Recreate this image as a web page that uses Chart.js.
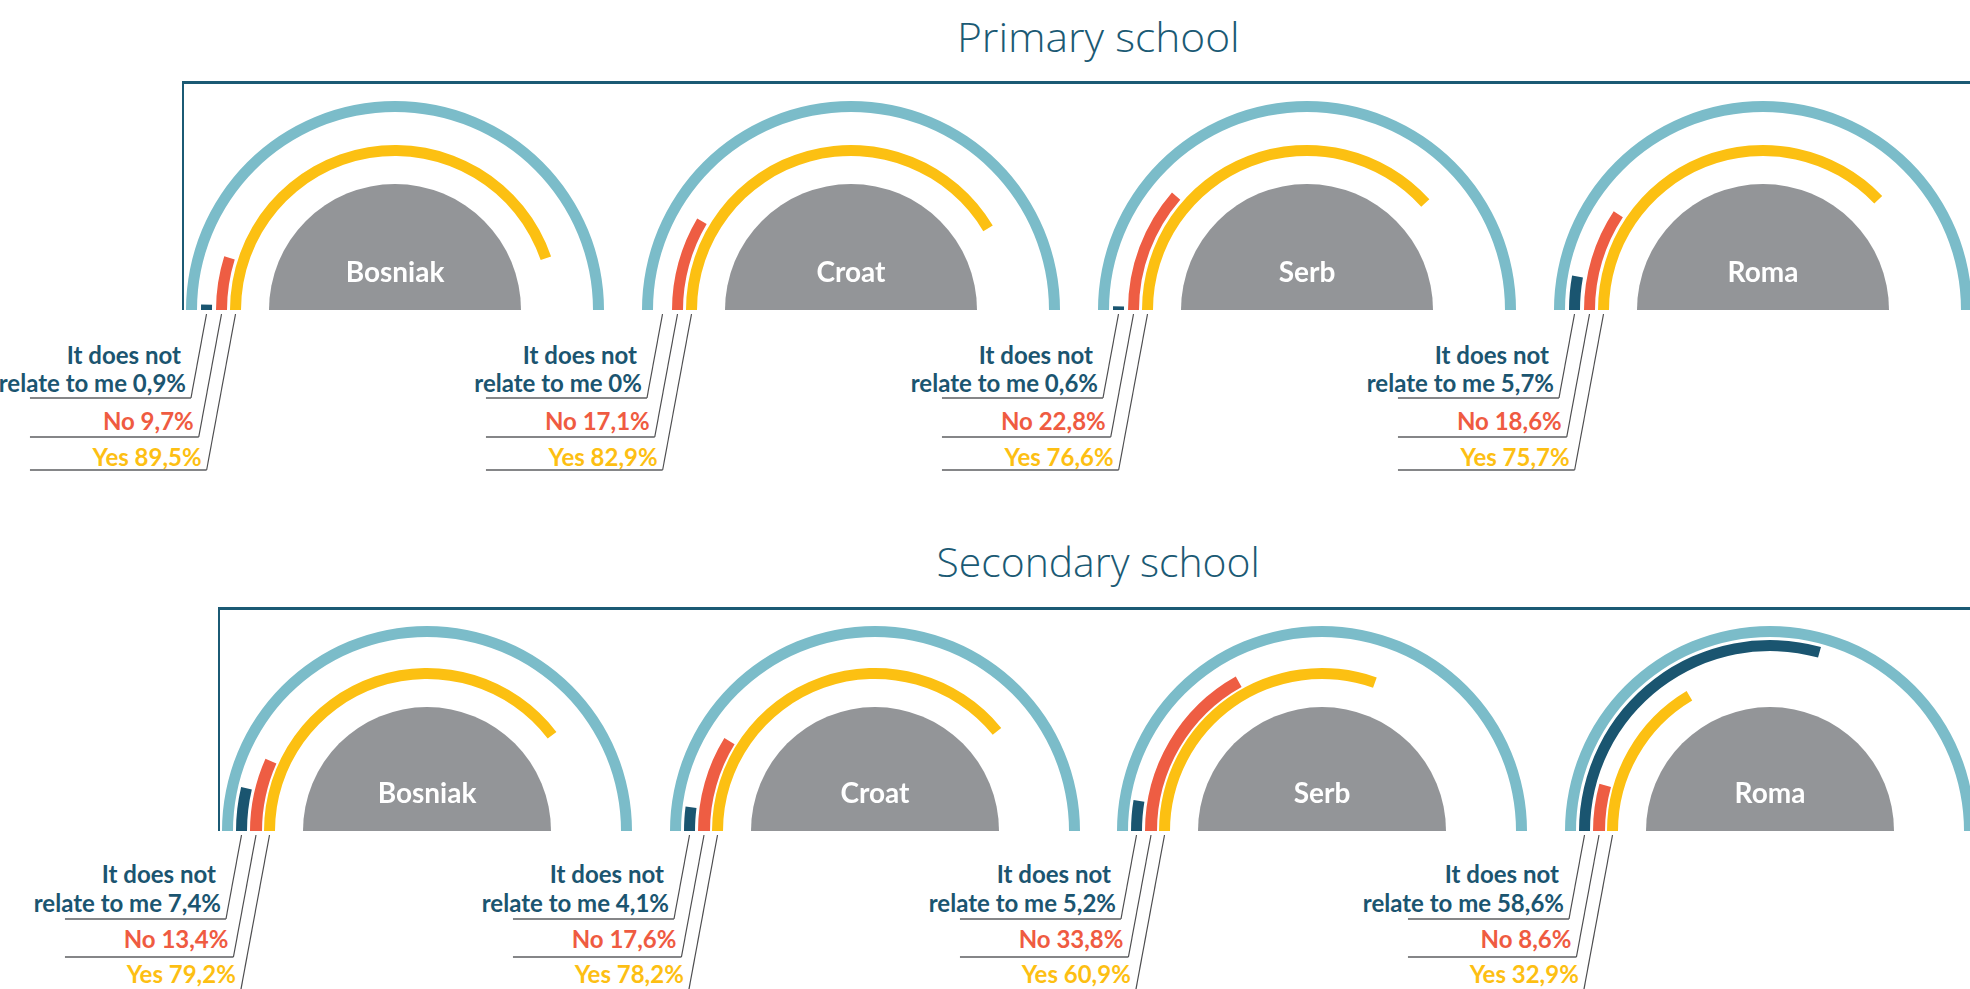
<!DOCTYPE html>
<html><head><meta charset="utf-8">
<script src="https://cdn.jsdelivr.net/npm/chart.js@4.4.0/dist/chart.umd.min.js"></script>
<style>
html,body{margin:0;padding:0;background:#fff;width:1970px;height:989px;overflow:hidden;}
#stage{position:relative;width:1970px;height:989px;overflow:hidden;}
.title{position:absolute;font-family:"Open Sans",sans-serif;font-weight:300;color:#1b5a74;font-size:41px;line-height:41px;white-space:nowrap;transform-origin:50% 50%;}
.lbl{position:absolute;font-family:Lato,sans-serif;font-weight:700;font-size:24px;line-height:24px;white-space:nowrap;text-align:right;}
.grp{position:absolute;font-family:Lato,sans-serif;font-weight:700;font-size:28px;line-height:28px;color:#fff;white-space:nowrap;transform:translateX(-50%);}
.frame{position:absolute;border-top:3px solid #1b5a74;border-left:2px solid #1b5a74;box-sizing:border-box;}
canvas{position:absolute;}
svg{position:absolute;left:0;top:0;}
</style></head><body><div id="stage"></div>
<script>
// ---------- data ----------
const schoolTitles = ['Primary school', 'Secondary school'];
const groups = ['Bosniak', 'Croat', 'Serb', 'Roma'];
const answerLabels = ['It does not relate to me', 'No', 'Yes'];
const primaryNotRelate = [0.9, 0, 0.6, 5.7];
const primaryNo = [9.7, 17.1, 22.8, 18.6];
const primaryYes = [89.5, 82.9, 76.6, 75.7];
const secondaryNotRelate = [7.4, 4.1, 5.2, 58.6];
const secondaryNo = [13.4, 17.6, 33.8, 8.6];
const secondaryYes = [79.2, 78.2, 60.9, 32.9];

// ---------- styles / layout ----------
const TEAL = '#7bbcc9', DARK = '#1a5570', RED = '#ee5d43', YEL = '#fcc012', GRAY = '#939598', CLEAR = 'rgba(0,0,0,0)';
const TXT = ['#1b5570', '#ef5b41', '#fdbf13'];
const rows = [
  { title: schoolTitles[0], titleBase: 52, titleW: 283, centers: [395, 851, 1307, 1763], base: 310,
    frame: { x: 182, y: 81 },
    weights: [11, 4, 11, 4, 11, 3, 11, 28, 126],
    off: { l1: 54, l2: 82, u1: 88, l3: 120, u2: 127, l4: 156, u3: 160 },
    series: [primaryNotRelate, primaryNo, primaryYes] },
  { title: schoolTitles[1], titleBase: 577, titleW: 323, centers: [427, 875, 1322, 1770], base: 831,
    frame: { x: 218, y: 607 },
    weights: [11, 3, 11, 3, 12, 2, 11, 28, 124],
    off: { l1: 52, l2: 81, u1: 88, l3: 117, u2: 126, l4: 152, u3: 159 },
    series: [secondaryNotRelate, secondaryNo, secondaryYes] }
];
const SLOPE = 0.185, UL_LEN = 161;

const stage = document.getElementById('stage');
const NS = 'http://www.w3.org/2000/svg';
const svg = document.createElementNS(NS, 'svg');
svg.setAttribute('width', 1970); svg.setAttribute('height', 989);

function fmt(v) { return (v === 0 ? '0' : v.toFixed(1).replace('.', ',')) + '%'; }
function line(x1, y1, x2, y2, stroke, w) {
  const l = document.createElementNS(NS, 'line');
  l.setAttribute('x1', x1); l.setAttribute('y1', y1); l.setAttribute('x2', x2); l.setAttribute('y2', y2);
  l.setAttribute('stroke', stroke); l.setAttribute('stroke-width', w);
  svg.appendChild(l);
}
function label(text, rightX, baseline, color) {
  const d = document.createElement('div');
  d.className = 'lbl'; d.textContent = text; d.style.color = color;
  d.style.right = (1970 - rightX) + 'px';
  d.style.top = (baseline - 21.3) + 'px';
  stage.appendChild(d);
}

const titleEls = [];
rows.forEach(row => {
  const t = document.createElement('div');
  t.className = 'title'; t.textContent = row.title;
  t.style.top = (row.titleBase - 36.4) + 'px';
  t.style.left = '1098px';
  stage.appendChild(t);
  titleEls.push([t, row.titleW]);
  const f = document.createElement('div');
  f.className = 'frame';
  f.style.left = row.frame.x + 'px'; f.style.top = row.frame.y + 'px';
  f.style.width = (1970 - row.frame.x + 10) + 'px'; f.style.height = (row.base - row.frame.y) + 'px';
  stage.appendChild(f);

  const R = row.weights.reduce((a, b) => a + b, 0);
  groups.forEach((g, gi) => {
    const cx = row.centers[gi], base = row.base;
    const cv = document.createElement('canvas');
    cv.width = 2 * R; cv.height = R;
    cv.style.left = (cx - R) + 'px'; cv.style.top = (base - R) + 'px';
    cv.style.width = (2 * R) + 'px'; cv.style.height = R + 'px';
    stage.appendChild(cv);
    const vals = row.series.map(s => s[gi]);
    const w = row.weights;
    const ds = [
      { label: 'scale', data: [100], backgroundColor: [TEAL], weight: w[0] },
      { label: '', data: [100], backgroundColor: [CLEAR], weight: w[1] },
      { label: answerLabels[0], data: [vals[0], 100 - vals[0]], backgroundColor: [DARK, CLEAR], weight: w[2] },
      { label: '', data: [100], backgroundColor: [CLEAR], weight: w[3] },
      { label: answerLabels[1], data: [vals[1], 100 - vals[1]], backgroundColor: [RED, CLEAR], weight: w[4] },
      { label: '', data: [100], backgroundColor: [CLEAR], weight: w[5] },
      { label: answerLabels[2], data: [vals[2], 100 - vals[2]], backgroundColor: [YEL, CLEAR], weight: w[6] },
      { label: '', data: [100], backgroundColor: [CLEAR], weight: w[7] },
      { label: g, data: [100], backgroundColor: [GRAY], weight: w[8] }
    ];
    ds.forEach(d => { d.borderWidth = 0; d.hoverOffset = 0; });
    const chart = new Chart(cv, {
      type: 'doughnut',
      data: { labels: ['value', 'rest'], datasets: ds },
      options: {
        responsive: false, animation: false, devicePixelRatio: 1,
        rotation: -90, circumference: 180, cutout: 0,
        events: [], layout: { padding: 0 },
        plugins: { legend: { display: false }, tooltip: { enabled: false } }
      }
    });
    const gl = document.createElement('div');
    gl.className = 'grp'; gl.textContent = g;
    gl.style.left = cx + 'px'; gl.style.top = (base - 28 - 25) + 'px';
    stage.appendChild(gl);

    const o = row.off;
    const ulY = [base + o.u1, base + o.u2, base + o.u3];
    const ends = [2, 4, 6].map((di, k) => {
      const el = chart.getDatasetMeta(di).data[0];
      const x0 = cx - R + el.x - (el.innerRadius + el.outerRadius) / 2;
      const y0 = base - R + el.y + 4;
      const x1 = x0 - SLOPE * (ulY[k] - y0);
      line(x0, y0, x1, ulY[k], '#4d4d4f', 1.2);
      return x1;
    });
    const left = ends[0] - UL_LEN;
    ends.forEach((x1, k) => line(left, ulY[k], x1, ulY[k], '#5d5e60', 1.6));
    const words = answerLabels[0].split(' ');
    label(words.slice(0, 3).join(' '), ends[0] - 10, base + o.l1, TXT[0]);
    label(words.slice(3).join(' ') + ' ' + fmt(vals[0]), ends[0] - 5, base + o.l2, TXT[0]);
    label(answerLabels[1] + ' ' + fmt(vals[1]), ends[1] - 5, base + o.l3, TXT[1]);
    label(answerLabels[2] + ' ' + fmt(vals[2]), ends[2] - 5, base + o.l4, TXT[2]);
  });
});
stage.appendChild(svg);

function fitTitles() {
  titleEls.forEach(([t, w]) => {
    const cw = t.offsetWidth;
    t.style.marginLeft = (-cw / 2) + 'px';
    t.style.transform = 'scaleX(' + (w / cw) + ')';
  });
}
fitTitles();
if (document.fonts && document.fonts.ready) document.fonts.ready.then(fitTitles);
</script>
</body></html>
